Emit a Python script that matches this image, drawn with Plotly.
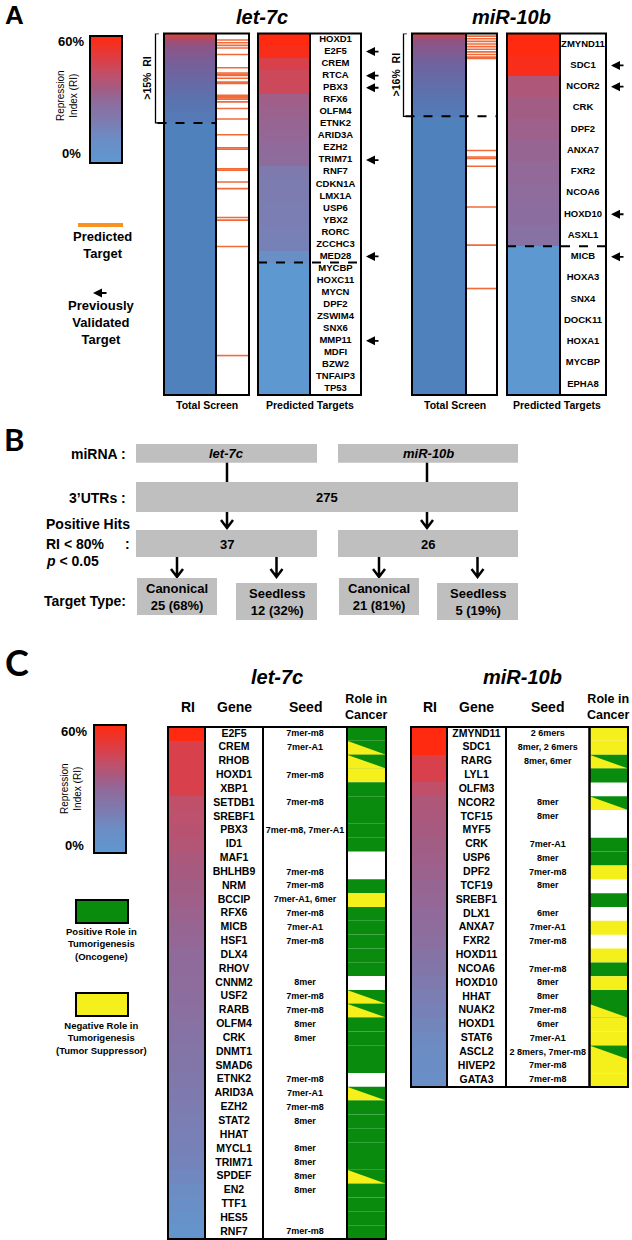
import plotly.graph_objects as go

W, H = 632, 1240

# ============================ DATA ============================
# ---- Panel A : total screen of 275 3'UTRs, ranked by repression index (RI)
screen_size = 275
let7c_screen_rank = [0, 3, 6, 10, 20, 35, 50, 67, 68, 275]
let7c_screen_ri = [50, 40, 32, 26, 20, 14, 8, 3, 0, 0]
mir10b_screen_rank = [0, 2, 5, 10, 20, 35, 50, 62, 63, 275]
mir10b_screen_ri = [48, 36, 28, 24, 18, 12, 7, 3, 0, 0]
let7c_cutoff_rank = 68      # >15% RI
mir10b_cutoff_rank = 63     # >16% RI
let7c_target_ranks = [5, 7, 9, 11, 16, 26, 30, 31, 32, 34, 37, 38, 47, 48, 49, 50, 52, 57, 65,
                      77, 87, 88, 103, 104, 113, 118, 140, 142, 162, 245]
mir10b_target_ranks = [2, 4, 6, 8, 10, 12, 14, 16, 18, 19, 89, 94, 95, 101, 132, 161, 194]

# ---- Panel A : predicted targets
let7c_pred_genes = ["HOXD1", "E2F5", "CREM", "RTCA", "PBX3", "RFX6", "OLFM4", "ETNK2", "ARID3A",
                    "EZH2", "TRIM71", "RNF7", "CDKN1A", "LMX1A", "USP6", "YBX2", "RORC", "ZCCHC3",
                    "MED28", "MYCBP", "HOXC11", "MYCN", "DPF2", "ZSWIM4", "SNX6", "MMP11", "MDFI",
                    "BZW2", "TNFAIP3", "TP53"]
let7c_pred_ri = [60, 58, 48, 45, 45, 34, 33, 32, 31, 30, 29, 21, 20, 20, 19, 19, 18, 17, 10,
                 0, 0, 0, 0, 0, 0, 0, 0, 0, 0, 0]
let7c_pred_hits = 19
let7c_validated = ["E2F5", "RTCA", "PBX3", "TRIM71", "MED28", "MMP11"]

mir10b_pred_genes = ["ZMYND11", "SDC1", "NCOR2", "CRK", "DPF2", "ANXA7", "FXR2", "NCOA6", "HOXD10",
                     "ASXL1", "MICB", "HOXA3", "SNX4", "DOCK11", "HOXA1", "MYCBP", "EPHA8"]
mir10b_pred_ri = [60, 58, 38, 35, 33.5, 32, 30.5, 29, 27.5, 26, 0, 0, 0, 0, 0, 0, 0]
mir10b_pred_hits = 10
mir10b_validated = ["SDC1", "NCOR2", "HOXD10", "MICB"]

# ---- Panel B : flow chart
flow_mirnas = ["let-7c", "miR-10b"]
flow_utrs = 275
flow_hits = [37, 26]
flow_canonical = [25, 21]
flow_seedless = [12, 5]

# ---- Panel C : positive hits
let7c_genes = ["E2F5", "CREM", "RHOB", "HOXD1", "XBP1", "SETDB1", "SREBF1", "PBX3", "ID1", "MAF1",
               "BHLHB9", "NRM", "BCCIP", "RFX6", "MICB", "HSF1", "DLX4", "RHOV", "CNNM2", "USF2",
               "RARB", "OLFM4", "CRK", "DNMT1", "SMAD6", "ETNK2", "ARID3A", "EZH2", "STAT2", "HHAT",
               "MYCL1", "TRIM71", "SPDEF", "EN2", "TTF1", "HES5", "RNF7"]
let7c_seeds = ["7mer-m8", "7mer-A1", "", "7mer-m8", "", "7mer-m8", "", "7mer-m8, 7mer-A1", "", "",
               "7mer-m8", "7mer-m8", "7mer-A1, 6mer", "7mer-m8", "7mer-A1", "7mer-m8", "", "", "8mer",
               "7mer-m8", "7mer-m8", "8mer", "8mer", "", "", "7mer-m8", "7mer-A1", "7mer-m8", "8mer",
               "", "8mer", "8mer", "8mer", "8mer", "", "", "7mer-m8"]
let7c_ri = [60, 48, 48, 48, 48, 42, 41, 40, 39, 37, 36, 35, 34, 33, 32, 31, 30, 29.5, 29, 28, 27,
            26, 25, 24, 23, 22, 21, 20, 19, 18, 17, 16, 14, 12, 10, 7, 4]
# G = oncogene, Y = tumour suppressor, B = both, W = unknown
let7c_roles = ["G", "B", "B", "Y", "G", "G", "G", "G", "G", "W", "W", "G", "Y", "G", "G", "G", "G",
               "G", "W", "B", "B", "G", "G", "G", "G", "W", "B", "G", "G", "G", "G", "G", "B", "G",
               "G", "G", "G"]

mir10b_genes = ["ZMYND11", "SDC1", "RARG", "LYL1", "OLFM3", "NCOR2", "TCF15", "MYF5", "CRK", "USP6",
                "DPF2", "TCF19", "SREBF1", "DLX1", "ANXA7", "FXR2", "HOXD11", "NCOA6", "HOXD10",
                "HHAT", "NUAK2", "HOXD1", "STAT6", "ASCL2", "HIVEP2", "GATA3"]
mir10b_seeds = ["2 6mers", "8mer, 2 6mers", "8mer, 6mer", "", "", "8mer", "8mer", "", "7mer-A1",
                "8mer", "7mer-m8", "8mer", "", "6mer", "7mer-A1", "7mer-m8", "", "7mer-m8", "8mer",
                "8mer", "7mer-m8", "6mer", "7mer-A1", "2 8mers, 7mer-m8", "7mer-m8", "7mer-m8"]
mir10b_ri = [60, 60, 48, 48, 42, 38, 37, 36, 35, 34, 33, 32, 31, 30, 29, 27, 25, 23, 21, 19, 17,
             15, 13, 12, 11, 10]
mir10b_roles = ["Y", "Y", "B", "G", "W", "B", "W", "W", "G", "G", "Y", "W", "G", "W", "Y", "W", "Y",
                "G", "Y", "G", "B", "Y", "Y", "B", "Y", "Y"]

ri_legend_ticks = [0, 60]

# ============================ STYLE ============================
ARIAL = "Liberation Sans, Arial, sans-serif"
NARROW = "Liberation Sans Narrow, Arial Narrow, Liberation Sans, sans-serif"
LETTER = "Lato, Open Sans, sans-serif"
RI_SCALE = [[0, "#5E98D0"], [0.2, "#6C8CC4"], [0.33, "#7C7CB0"], [0.5, "#906A9A"],
            [0.6, "#A65A80"], [0.7, "#C0506A"], [0.8, "#D8404C"], [1, "#FF2A10"]]
SCREEN_SCALE = [[0, "#4F81BD"], [0.15, "#5A74B0"], [0.3, "#6C66A2"], [0.5, "#8A568A"],
                [0.7, "#A84C6C"], [1, "#DC4438"]]
ORANGE = "#F26A3A"
GREEN = "#098C0E"
YELLOW = "#F5EF1B"
GRAY = "#BFBFBF"
BFS = 14     # panel B label size
BBS = 13     # panel B box text size

fig = go.Figure()
shapes, annos = [], []
yaxes = {}


def add_y(n, top, bottom, rng):
    yaxes["yaxis%d" % n] = dict(domain=[1 - bottom / H, 1 - top / H], range=rng, visible=False,
                                anchor="x", fixedrange=True)
    return "y%d" % n


def rect(x0, y0, x1, y1, fill=None, lc=None, lw=0, yref="y"):
    shapes.append(dict(type="rect", xref="x", yref=yref, x0=x0, y0=y0, x1=x1, y1=y1,
                       fillcolor=fill or "rgba(0,0,0,0)",
                       line=dict(color=lc or "rgba(0,0,0,0)", width=lw), layer="above"))


def line(x0, y0, x1, y1, color="black", width=2, dash=None, yref="y"):
    shapes.append(dict(type="line", xref="x", yref=yref, x0=x0, y0=y0, x1=x1, y1=y1,
                       line=dict(color=color, width=width, dash=dash or "solid"), layer="above"))


def path(d, fill=None, lc=None, lw=0, yref="y"):
    shapes.append(dict(type="path", xref="x", yref=yref, path=d,
                       fillcolor=fill or "rgba(0,0,0,0)",
                       line=dict(color=lc or "rgba(0,0,0,0)", width=lw), layer="above"))


def txt(x, y, s, size, family=ARIAL, xanchor="center", yanchor="middle", yref="y", angle=0,
        color="black"):
    annos.append(dict(x=x, y=y, xref="x", yref=yref, text=s, showarrow=False, textangle=angle,
                      font=dict(family=family, size=size, color=color),
                      xanchor=xanchor, yanchor=yanchor))


def arrow_left(x, y, yref="y", length=14):
    annos.append(dict(x=x, y=y, xref="x", yref=yref, ax=length, ay=0, text="", showarrow=True,
                      arrowhead=2, arrowsize=1, arrowwidth=1.8, arrowcolor="black", standoff=0))


def down_arrow(x, y0, y1):
    path("M %g,%g L %g,%g M %g,%g L %g,%g L %g,%g" % (x, y0, x, y1, x - 6, y1 - 8, x, y1, x + 6, y1 - 8),
         lc="black", lw=2.5)


def gradient(xl, xr, yvals, zvals, yref, scale, zmax, smooth):
    xm = (xl + xr) / 2
    fig.add_trace(go.Heatmap(x=[xl, xm, xr], y=yvals, z=[[v, v] for v in zvals], xaxis="x",
                             yaxis=yref, colorscale=scale, zmin=0, zmax=zmax, showscale=False,
                             zsmooth=smooth, hoverinfo="skip"))


def text_col(x, labels, yref, size):
    fig.add_trace(go.Scatter(x=[x] * len(labels), y=list(range(len(labels))), text=labels,
                             mode="text", xaxis="x", yaxis=yref, cliponaxis=False,
                             textposition="middle center", hoverinfo="skip",
                             textfont=dict(family=ARIAL, size=size, color="black", weight="bold")))


# ============================ PANEL A ============================
txt(14, 15, "<b>A</b>", 26)
A_TOP, A_BOT = 33.5, 395


def screen_block(xg0, xg1, xs1, ranks, ris, cutoff, targets, n, br_x, pct, dash_end):
    ya = add_y(n, A_TOP, A_BOT, [screen_size, 0])
    gradient(xg0, xg1, ranks, ris, ya, SCREEN_SCALE, 50, "best")
    for r in targets:
        line(xg1 + 1, r, xs1 - 1, r, color=ORANGE, width=1.6, yref=ya)
    line(br_x + 2, cutoff, dash_end, cutoff, width=2, dash="dash", yref=ya)
    path("M %g,0 L %g,0 L %g,%g L %g,%g" % (br_x + 3.5, br_x, br_x, cutoff, br_x + 3.5, cutoff),
         lc="black", lw=1.3, yref=ya)
    txt(br_x - 8, cutoff / 2, "<b>&gt;%d%%  RI</b>" % pct, 10.5, yref=ya, angle=-90)
    rect(xg0, A_TOP, xs1, A_BOT, lc="black", lw=2)
    line(xg1, A_TOP, xg1, A_BOT, width=2)
    txt((xg0 + xs1) / 2, 405, "<b>Total Screen</b>", 10.5)


def predicted_block(xg0, xg1, xn1, genes, ris, hits, validated, n, size):
    ya = add_y(n, A_TOP, A_BOT, [len(genes) - 0.5, -0.5])
    gradient(xg0, xg1, list(range(len(genes))), ris, ya, RI_SCALE, 60, False)
    text_col((xg1 + xn1) / 2, genes, ya, size)
    line(xg0, hits - 0.5, xn1, hits - 0.5, width=2, dash="dash", yref=ya)
    rect(xg0, A_TOP, xn1, A_BOT, lc="black", lw=2)
    line(xg1, A_TOP, xg1, A_BOT, width=2)
    for g in validated:
        arrow_left(xn1 + 5, genes.index(g), yref=ya)
    txt((xg0 + xn1) / 2, 405, "<b>Predicted Targets</b>", 10.5)


screen_block(164, 216, 249, let7c_screen_rank, let7c_screen_ri, let7c_cutoff_rank,
             let7c_target_ranks, 2, 155.5, 15, 216)
predicted_block(258, 310, 361, let7c_pred_genes, let7c_pred_ri, let7c_pred_hits,
                let7c_validated, 4, 9.5)
screen_block(412, 466, 497, mir10b_screen_rank, mir10b_screen_ri, mir10b_cutoff_rank,
             mir10b_target_ranks, 3, 403.5, 16, 497)
predicted_block(507, 560, 606, mir10b_pred_genes, mir10b_pred_ri, mir10b_pred_hits,
                mir10b_validated, 5, 9.5)
txt(262, 17, "<b><i>let-7c</i></b>", 20)
txt(511, 17, "<b><i>miR-10b</i></b>", 20)

# legend A
ya8 = add_y(8, 36, 163, [0, 60])
gradient(90, 122, ri_legend_ticks, ri_legend_ticks, ya8, RI_SCALE, 60, "best")
rect(90, 36, 122, 163, lc="black", lw=2)
txt(86, 41, "<b>60%</b>", 13, xanchor="right")
txt(83, 153, "<b>0%</b>", 13, xanchor="right")
txt(67, 96, "Repression<br>Index (RI)", 10, angle=-90)
line(78, 225, 123, 225, color="#F7931E", width=4)
txt(102, 245, "<b>Predicted<br>Target</b>", 13)
arrow_left(93, 293, length=15)
txt(101, 322, "<b>Previously<br>Validated<br>Target</b>", 13)

# ============================ PANEL B ============================
txt(14, 439, "<b>B</b>", 31, family=LETTER)
box_x = [(136, 317), (338, 518)]
centers = [227, 427]
for (x0, x1), c, m in zip(box_x, centers, flow_mirnas):
    rect(x0, 444, x1, 462.7, fill=GRAY)
    txt((x0 + x1) / 2, 453.5, "<b><i>%s</i></b>" % m, BBS, family=NARROW)
    line(c, 462.7, c, 482, width=2.5)
rect(136, 482, 518, 512, fill=GRAY)
txt(327, 497.5, "<b>%d</b>" % flow_utrs, BBS, family=NARROW)
for (x0, x1), c, h, can, sdl in zip(box_x, centers, flow_hits, flow_canonical, flow_seedless):
    down_arrow(c, 512, 528)
    rect(x0, 530, x1, 557, fill=GRAY)
    txt((x0 + x1) / 2, 544, "<b>%d</b>" % h, BBS, family=NARROW)
    cx0, cx1 = x0 + 1, x0 + 81
    sx0, sx1 = x1 - 81, x1
    down_arrow((cx0 + cx1) / 2, 557, 577)
    down_arrow((sx0 + sx1) / 2, 557, 577)
    rect(cx0, 578, cx1, 615, fill=GRAY)
    rect(sx0, 583, sx1, 620, fill=GRAY)
    txt((cx0 + cx1) / 2, 597, "<b>Canonical<br>%d (%d%%)</b>" % (can, round(100 * can / h)), BBS,
        family=NARROW)
    txt((sx0 + sx1) / 2, 602, "<b>Seedless<br>%d (%d%%)</b>" % (sdl, round(100 * sdl / h)), BBS,
        family=NARROW)
txt(128, 453.5, "<b>miRNA :</b>", BFS, family=NARROW, xanchor="right")
txt(128, 497.5, "<b>3’UTRs :</b>", BFS, family=NARROW, xanchor="right")
txt(44, 523.5, "<b>Positive Hits</b>", BFS, family=NARROW, xanchor="left")
txt(44, 543.5, "<b>RI &lt; 80%</b>", BFS, family=NARROW, xanchor="left")
txt(127, 543.5, "<b>:</b>", BFS, family=NARROW)
txt(44, 561, "<b><i>p</i> &lt; 0.05</b>", BFS, family=NARROW, xanchor="left")
txt(128, 600.5, "<b>Target Type:</b>", BFS, family=NARROW, xanchor="right")

# ============================ PANEL C ============================
txt(17, 662, "<b>C</b>", 36, family=LETTER)
ya9 = add_y(9, 725, 853, [0, 60])
gradient(94, 126, ri_legend_ticks, ri_legend_ticks, ya9, RI_SCALE, 60, "best")
rect(94, 725, 126, 853, lc="black", lw=2)
txt(89, 731, "<b>60%</b>", 13, xanchor="right")
txt(86, 845, "<b>0%</b>", 13, xanchor="right")
txt(71, 789, "Repression<br>Index (RI)", 10, angle=-90)
rect(76, 900, 128, 923, fill=GREEN, lc="black", lw=2)
txt(101, 944, "<b>Positive Role in<br>Tumorigenesis<br>(Oncogene)</b>", 9.5)
rect(76, 993, 128, 1016, fill=YELLOW, lc="black", lw=2)
txt(101, 1038, "<b>Negative Role in<br>Tumorigenesis<br>(Tumor Suppressor)</b>", 9.5)


def table(cols, genes, seeds, ris, roles, n, bottom, title, title_x):
    xr0, xg0, xs0, xo0, xo1 = cols
    ya = add_y(n, 727, bottom, [len(genes) - 0.5, -0.5])
    gradient(xr0, xg0, list(range(len(genes))), ris, ya, RI_SCALE, 60, False)
    text_col((xg0 + xs0) / 2, genes, ya, 10.5)
    text_col((xs0 + xo0) / 2, seeds, ya, 9)
    for i, r in enumerate(roles):
        if r in ("G", "B"):
            rect(xo0, i - 0.5, xo1, i + 0.5, fill=GREEN, yref=ya)
        if r == "Y":
            rect(xo0, i - 0.5, xo1, i + 0.5, fill=YELLOW, yref=ya)
        if r == "B":
            path("M %g,%g L %g,%g L %g,%g Z" % (xo0, i - 0.5, xo0, i + 0.5, xo1, i + 0.5),
                 fill=YELLOW, yref=ya)
    for a, b in ((xr0, xg0), (xg0, xs0), (xs0, xo0), (xo0, xo1)):
        rect(a, 727, b, bottom, lc="black", lw=2)
    txt(title_x, 677, "<b><i>%s</i></b>" % title, 20)
    txt((xr0 + xg0) / 2 + 1, 707, "<b>RI</b>", 14)
    txt((xg0 + xs0) / 2, 707, "<b>Gene</b>", 14)
    txt((xs0 + xo0) / 2, 707, "<b>Seed</b>", 14)
    txt((xo0 + xo1) / 2, 707, "<b>Role in<br>Cancer</b>", 12.5)


table((168, 205, 263, 347, 386), let7c_genes, let7c_seeds, let7c_ri, let7c_roles, 6, 1239,
      "let-7c", 277)
table((411, 447, 506, 589.5, 628), mir10b_genes, mir10b_seeds, mir10b_ri, mir10b_roles, 7, 1087,
      "miR-10b", 522)

fig.update_layout(
    width=W, height=H, margin=dict(l=0, r=0, t=0, b=0), autosize=False,
    paper_bgcolor="white", plot_bgcolor="rgba(0,0,0,0)", showlegend=False,
    xaxis=dict(range=[0, W], domain=[0, 1], visible=False, fixedrange=True, anchor="y"),
    yaxis=dict(range=[H, 0], domain=[0, 1], visible=False, fixedrange=True, anchor="x"),
    shapes=shapes, annotations=annos, **yaxes)

fig.write_html("out.html", config={"displayModeBar": False},
               post_script="document.body.style.margin='0';document.body.style.overflow='hidden';")
